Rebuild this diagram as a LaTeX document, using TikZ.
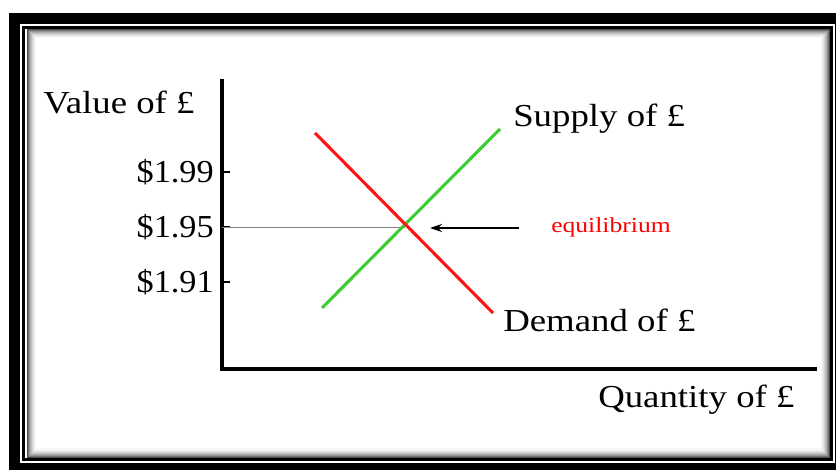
\documentclass[tikz,border=0pt]{standalone}
\usepackage{fontspec}
\setmainfont{Liberation Serif}
\newfontfamily\wordfont[FakeStretch=1.15]{Liberation Serif}
\newfontfamily\numfont[FakeStretch=1.07]{Liberation Serif}
\newfontfamily\eqfont[FakeStretch=1.2]{Liberation Serif}
\usetikzlibrary{arrows.meta,intersections}
\definecolor{supgreen}{RGB}{60,205,50}
\definecolor{demred}{RGB}{255,20,20}
\tikzset{
  lab/.style={font=\wordfont\fontsize{24}{28}\selectfont, inner sep=0pt},
  numlab/.style={font=\numfont\fontsize{24}{28}\selectfont, inner sep=0pt},
  eqlab/.style={font=\eqfont\fontsize{16}{19}\selectfont, text=red, inner sep=0pt},
  axis/.style={line width=2.4pt, line cap=rect},
  tick/.style={line width=1.2pt},
  curve/.style={line width=2.3pt},
}
\begin{document}
\begin{tikzpicture}[x=0.75pt,y=-0.75pt]
\useasboundingbox (0,0) rectangle (836,470);
% frame
\fill[white] (0,0) rectangle (836,470);
\fill[black] (9,13) rectangle (860,490);
\fill[white] (20,24) rectangle (835,463);
\foreach \i/\c in {0/70,1/55,2/42,3/32,4/24,5/17,6/11,7/6,8/3}{
  \draw[black!\c, line width=0.75pt] (27+\i,30+\i) rectangle (829-\i,457-\i);
}
\draw[black, line width=2pt] (23.5,27.5) rectangle (831.5,459.5);
% axes
\coordinate (ytop) at (222,81);
\coordinate (orig) at (222,369);
\coordinate (xend) at (815,369);
\draw[axis] (ytop) -- (orig) -- (xend);
% curves
\coordinate (d1) at (315,133);
\coordinate (d2) at (493,313);
\coordinate (s1) at (322,308);
\coordinate (s2) at (500,129);
\path[name path=dem] (d1) -- (d2);
\path[name path=sup] (s1) -- (s2);
\path[name intersections={of=dem and sup, by=eq}];
% ticks
\foreach \n/\yy in {t1/172,t2/227,t3/282}{
  \coordinate (\n) at (222,\yy);
  \draw[tick] (\n) -- ++(8,0);
}
\draw[gray, line width=0.7pt] (t2) -- (t2 -| eq);
\draw[curve, supgreen] (s1) -- (s2);
\draw[curve, demred] (d1) -- (d2);
% labels
\node[lab, anchor=west] (vlab) at (43,102) {Value of £};
\node[numlab, anchor=east] (l1) at (214,172) {\$1.99};
\node[numlab, anchor=east] (l2) at (214,227) {\$1.95};
\node[numlab, anchor=east] (l3) at (214,282) {\$1.91};
\node[lab, anchor=west] (slab) at (513,119) {Supply of £};
\node[lab, anchor=west] (dlab) at (503,320) {Demand of £};
\node[lab, anchor=west] (qlab) at (598,400) {Quantity of £};
\node[eqlab, anchor=west] (eqlab) at (551,227) {equilibrium};
\coordinate (astart) at (519,228);
\coordinate (aend) at (430,228);
\draw[line width=1.1pt, -{Stealth[length=9pt,width=6pt]}] (astart) -- (aend);
\end{tikzpicture}
\end{document}
